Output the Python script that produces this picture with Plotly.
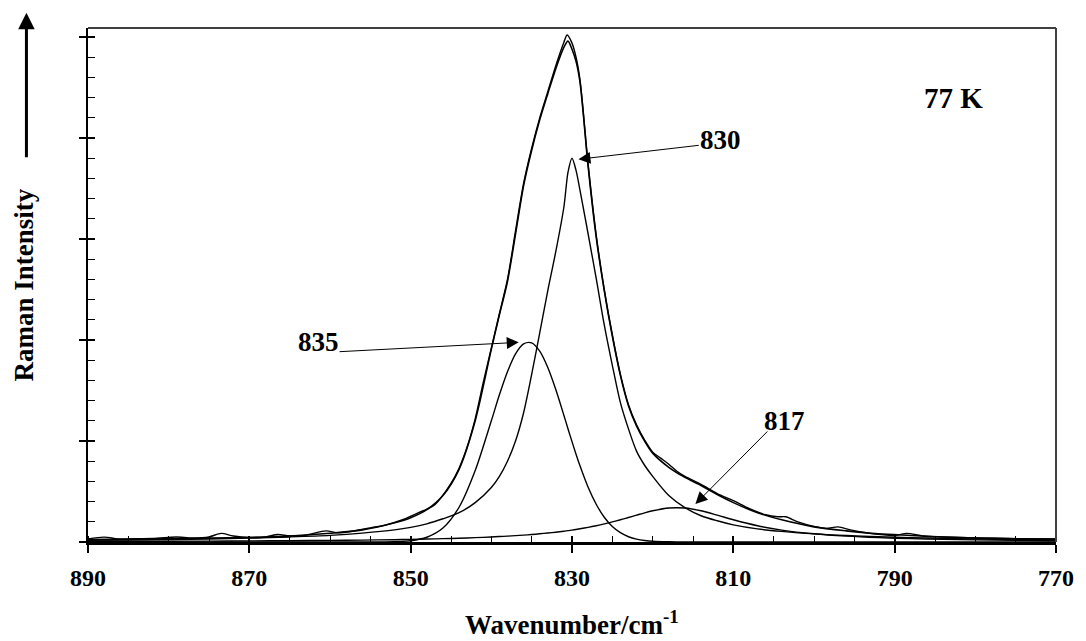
import plotly.graph_objects as go

# ---- data ----
# shared wavenumber grid for the fitted envelope and the three fitted bands
X = [890, 885, 880, 875, 870, 865, 860, 856, 852, 850, 848, 846, 844, 842, 840,
     839, 838, 837, 836, 835, 834, 833, 832, 831, 830.5, 830, 829.5, 829, 828, 827,
     826, 825, 824, 823, 822, 821, 820, 818, 816, 814, 812, 810, 807, 804, 800,
     796, 792, 788, 784, 780, 775, 770]

FIT = [0.025, 0.028, 0.032, 0.038, 0.045, 0.058, 0.086, 0.12, 0.19, 0.24, 0.32, 0.46, 0.72, 1.20, 1.91,
       2.25, 2.58, 3.05, 3.53, 3.88, 4.18, 4.44, 4.69, 4.90, 4.96, 4.88, 4.76, 4.55, 3.72, 3.02,
       2.49, 2.04, 1.65, 1.35, 1.15, 1.00, 0.88, 0.74, 0.64, 0.56, 0.47, 0.39, 0.29, 0.22, 0.15,
       0.11, 0.08, 0.065, 0.05, 0.04, 0.032, 0.028]

BAND_830 = [0.017, 0.020, 0.024, 0.030, 0.038, 0.050, 0.066, 0.088, 0.12, 0.145, 0.18, 0.23, 0.29, 0.39, 0.54,
            0.65, 0.80, 1.00, 1.28, 1.66, 2.07, 2.49, 2.88, 3.32, 3.66, 3.80, 3.68, 3.48, 3.05, 2.61,
            2.15, 1.75, 1.38, 1.12, 0.90, 0.76, 0.65, 0.46, 0.34, 0.26, 0.21, 0.17, 0.13, 0.105, 0.08,
            0.064, 0.052, 0.043, 0.036, 0.030, 0.025, 0.021]

BAND_835 = [0, 0, 0, 0, 0, 0, 0, 0, 0.003, 0.013, 0.047, 0.138, 0.344, 0.707, 1.20,
            1.458, 1.687, 1.864, 1.963, 1.972, 1.89, 1.728, 1.507, 1.253, 1.122, 0.994, 0.869, 0.752, 0.542, 0.374,
            0.245, 0.153, 0.092, 0.052, 0.028, 0.015, 0.007, 0.002, 0, 0, 0, 0, 0, 0, 0,
            0, 0, 0, 0, 0, 0, 0]

BAND_817 = [0.006, 0.007, 0.008, 0.009, 0.011, 0.013, 0.016, 0.019, 0.023, 0.026, 0.029, 0.033, 0.037, 0.043, 0.050,
            0.054, 0.058, 0.063, 0.068, 0.074, 0.081, 0.089, 0.097, 0.107, 0.113, 0.118, 0.124, 0.131, 0.145, 0.161,
            0.179, 0.199, 0.220, 0.243, 0.266, 0.289, 0.309, 0.336, 0.336, 0.309, 0.266, 0.220, 0.161, 0.118, 0.081,
            0.058, 0.043, 0.033, 0.026, 0.021, 0.017, 0.013]

# measured (noisy) spectrum
XE = [890, 888, 886, 884, 882, 880, 879, 877, 875, 873.5, 872, 870, 868, 866.5, 865,
      863, 860.5, 859, 857, 855, 853, 851, 849, 847, 845, 844, 843, 842, 841, 840,
      839, 838, 837, 836, 835, 834, 833, 832, 831, 830.6, 830, 829.5, 829, 828, 827,
      826, 825, 824, 823, 822, 821, 820, 819, 818, 817, 816, 814, 812, 810, 808,
      806, 804.5, 803.5, 802, 800, 798.5, 797, 795.5, 793, 790, 788.5, 786.5, 784, 780, 776,
      772, 770]
EXP = [0.03, 0.048, 0.028, 0.032, 0.034, 0.045, 0.05, 0.04, 0.05, 0.085, 0.06, 0.045, 0.05, 0.075, 0.06,
       0.068, 0.11, 0.09, 0.11, 0.14, 0.17, 0.22, 0.29, 0.37, 0.58, 0.73, 0.94, 1.22, 1.58, 1.92,
       2.26, 2.60, 3.08, 3.55, 3.90, 4.20, 4.46, 4.72, 4.95, 5.02, 4.94, 4.80, 4.57, 3.74, 3.04,
       2.50, 2.05, 1.66, 1.36, 1.16, 1.01, 0.89, 0.83, 0.77, 0.70, 0.65, 0.57, 0.48, 0.41, 0.33,
       0.27, 0.25, 0.25, 0.20, 0.155, 0.135, 0.15, 0.12, 0.085, 0.065, 0.085, 0.06, 0.05, 0.04, 0.035,
       0.03, 0.03]

X_TICKS = [890, 870, 850, 830, 810, 790, 770]
Y_TICKS = [0, 1, 2, 3, 4, 5]

# band labels: (text, label x, label y, arrow tail x, tail y, arrow head x, head y)
LABELS = [
    ("835", 861.4, 1.98, 859.0, 1.884, 836.6, 1.977),
    ("830", 811.6, 3.98, 814.1, 3.93, 829.2, 3.79),
    ("817", 803.6, 1.20, 805.6, 1.109, 814.7, 0.376),
]

FONT = "Liberation Serif, Times New Roman, serif"

fig = go.Figure()

def add_line(x, y, w):
    fig.add_trace(go.Scatter(x=x, y=y, mode="lines",
                             line=dict(color="black", width=w, shape="spline", smoothing=0.8),
                             hoverinfo="skip", showlegend=False))

add_line(X, BAND_817, 1.4)
add_line(X, BAND_835, 1.4)
add_line(X, BAND_830, 1.4)
add_line(X, FIT, 1.6)
add_line(XE, EXP, 1.4)

# empty trace that carries the overlay axes (inside half of the crossing major ticks)
fig.add_trace(go.Scatter(x=[None], y=[None], xaxis="x2", yaxis="y2", mode="lines",
                         hoverinfo="skip", showlegend=False))

annotations = []
for txt, lx, ly, tx, ty, hx, hy in LABELS:
    annotations.append(dict(x=lx, y=ly, xref="x", yref="y", text=txt, showarrow=False,
                            font=dict(family=FONT, size=27, color="black", weight="bold")))
    annotations.append(dict(x=hx, y=hy, xref="x", yref="y", ax=tx, ay=ty, axref="x", ayref="y",
                            text="", showarrow=True, arrowhead=2, arrowsize=2.4, arrowwidth=1,
                            arrowcolor="black", standoff=0, startstandoff=0))

annotations.append(dict(x=782.7, y=4.40, xref="x", yref="y", text="77 K", showarrow=False,
                        font=dict(family=FONT, size=29, color="black", weight="bold")))

# axis titles
annotations.append(dict(x=0.5, y=-0.157, xref="paper", yref="paper",
                        text="Wavenumber/cm<sup>-1</sup>", showarrow=False,
                        xanchor="center", yanchor="middle",
                        font=dict(family=FONT, size=27, color="black", weight="bold")))
annotations.append(dict(x=-0.0656, y=0.5, xref="paper", yref="paper",
                        text="Raman Intensity", showarrow=False, textangle=-90,
                        xanchor="center", yanchor="middle",
                        font=dict(family=FONT, size=27, color="black", weight="bold")))
# upward arrow beside the y title
annotations.append(dict(x=-0.0636, y=1.0298, xref="paper", yref="paper", ax=0, ay=146,
                        text="", showarrow=True, arrowhead=2, arrowsize=1.1, arrowwidth=3,
                        arrowcolor="black", standoff=0, startstandoff=0))

fig.update_layout(
    width=1086, height=641,
    margin=dict(l=88, r=23, t=28, b=99),
    paper_bgcolor="white", plot_bgcolor="white",
    showlegend=False,
    annotations=annotations,
    shapes=[
        dict(type="line", xref="paper", yref="paper", x0=0, x1=1, y0=1, y1=1,
             line=dict(color="#404040", width=2)),
        dict(type="line", xref="paper", yref="paper", x0=1, x1=1, y0=0, y1=1,
             line=dict(color="#404040", width=2)),
    ],
    xaxis=dict(range=[890, 770], tickvals=X_TICKS, ticks="outside", ticklen=8, tickwidth=1.5,
               tickcolor="black", showline=True, linewidth=3, linecolor="black",
               showgrid=False, zeroline=False, ticklabelstandoff=4,
               tickfont=dict(family=FONT, size=24, color="black", weight="bold"),
               minor=dict(ticks="inside", dtick=5, ticklen=6, tickwidth=1, tickcolor="black",
                          showgrid=False)),
    yaxis=dict(range=[0, 5.09], tickvals=Y_TICKS, showticklabels=False, ticks="outside",
               ticklen=7, tickwidth=1.5, tickcolor="black", showline=True, linewidth=2,
               linecolor="black", showgrid=False, zeroline=False,
               minor=dict(ticks="inside", dtick=0.2, ticklen=7, tickwidth=1, tickcolor="black",
                          showgrid=False)),
    xaxis2=dict(overlaying="x", matches="x", side="bottom", range=[890, 770], tickvals=X_TICKS,
                ticks="inside", ticklen=6, tickwidth=1.5, tickcolor="black",
                showticklabels=False, showline=False, showgrid=False, zeroline=False),
    yaxis2=dict(overlaying="y", matches="y", side="left", range=[0, 5.09], tickvals=Y_TICKS,
                ticks="inside", ticklen=7, tickwidth=1.5, tickcolor="black",
                showticklabels=False, showline=False, showgrid=False, zeroline=False),
)

fig.write_html("out.html")
